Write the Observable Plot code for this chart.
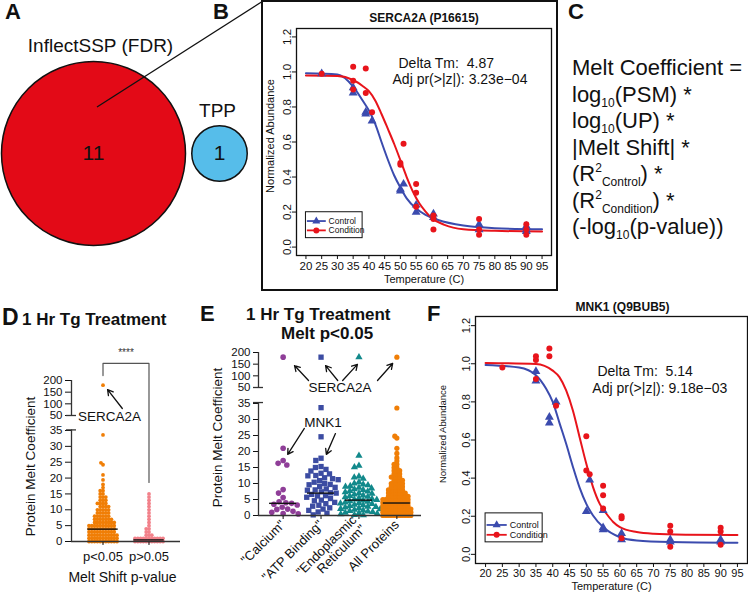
<!DOCTYPE html>
<html><head><meta charset="utf-8">
<script src="https://cdn.jsdelivr.net/npm/d3@7"></script>
<script src="https://cdn.jsdelivr.net/npm/@observablehq/plot@0.6"></script>
<style>
body{margin:0;background:#fff;}
#fig{position:relative;width:748px;height:594px;overflow:hidden;font-family:"Liberation Sans",Arial,Helvetica,sans-serif;color:#111;background:#fff;}
.lab{position:absolute;white-space:nowrap;line-height:1;}
#formula{position:absolute;left:572px;top:55px;font-size:22px;line-height:26.5px;white-space:nowrap;}
#formula sub,#formula sup{font-size:12px;line-height:0;position:relative;vertical-align:baseline;}
#formula sub{top:5px;}
#formula sup{top:-9px;}
#boxB{position:absolute;left:261px;top:0px;width:297px;height:291px;border:2px solid #111;box-sizing:border-box;}
</style></head><body><div id="fig"></div>
<script>
// ---------------- DATA ----------------
// Panel A (Venn counts)
const vennSets = ["InflectSSP (FDR)", "TPP"];
const vennCounts = [11, 1];
const vennColors = ["#E30A17", "#56BDEA"];

// Panels B & F shared
const tempTicks = [20,25,30,35,40,45,50,55,60,65,70,75,80,85,90,95];
const abundTicks = [0, 0.2, 0.4, 0.6, 0.8, 1.0, 1.2];
const legendNames = ["Control", "Condition"];
const curveColors = ["#3B4BAE", "#E8141B"];
const curveSymbols = ["triangle", "circle"];

// Panel B: SERCA2A (P16615)
const bCtrlTemp  = [25,35,35,39,39,41,50,50,51,55,55,60.5,60.5,75,75,90,90,90];
const bCtrlAbund = [0.99,0.88,0.91,0.77,0.76,0.72,0.33,0.32,0.36,0.20,0.24,0.19,0.17,0.13,0.10,0.12,0.10,0.09];
const bCondTemp  = [25,35,35,35,39,39,41,50,50,51,55,55,55,60.5,60.5,60.5,75,75,75,90,90,90];
const bCondAbund = [0.99,1.03,0.95,0.90,1.02,0.88,0.77,0.48,0.47,0.59,0.36,0.31,0.23,0.18,0.16,0.10,0.16,0.10,0.07,0.13,0.10,0.07];
const bCtrlFitTemp = [20,30,35,38,40,42,44,46,48,50,52,55,58,62,70,80,95];
const bCtrlFit     = [0.992,0.985,0.916,0.837,0.78,0.704,0.60,0.50,0.41,0.34,0.278,0.22,0.184,0.155,0.123,0.108,0.102];
const bCondFitTemp = [20,30,35,38,40,42,44,46,48,50,52,54,56,58,60,64,70,80,95];
const bCondFit     = [0.979,0.977,0.954,0.92,0.89,0.837,0.76,0.676,0.59,0.496,0.40,0.316,0.25,0.203,0.165,0.127,0.102,0.093,0.089];

// Panel F: MNK1 (Q9BUB5)
const fCtrlTemp  = [35,35,39,39,41,50,51,55,55,55,60.5,60.5,75,75,90,90];
const fCtrlAbund = [0.96,0.91,0.72,0.69,0.80,0.225,0.39,0.23,0.14,0.13,0.11,0.077,0.077,0.065,0.077,0.065];
const fCondTemp  = [25,35,35,35,39,39,41,50,50,51,55,55,55,60.5,60.5,60.5,75,75,75,90,90,90];
const fCondAbund = [0.98,1.04,1.02,0.92,1.08,1.04,0.78,0.62,0.44,0.42,0.36,0.31,0.24,0.20,0.19,0.085,0.15,0.12,0.04,0.14,0.12,0.05];
const fCtrlFitTemp = [20,30,35,38,40,42,44,46,48,50,52,55,60,65,75,95];
const fCtrlFit     = [0.994,0.98,0.94,0.87,0.80,0.69,0.58,0.46,0.35,0.265,0.204,0.143,0.09,0.073,0.065,0.061];
const fCondFitTemp = [20,35,40,42,44,46,48,50,52,54,56,58,60,65,70,80,95];
const fCondFit     = [1.004,0.999,0.964,0.93,0.86,0.755,0.615,0.475,0.353,0.265,0.213,0.17,0.143,0.117,0.108,0.103,0.101];

// Panel D: melt coefficient by melt-shift p-value (value levels + number of proteins read per level)
const dCats = ["p<0.05", "p>0.05"];
const dColors = ["#F07E06", "#F2818A"];
const sigLevels = [0,1,2,3,4,5,6,7,8,9,10,11,12,13,14,15,16,17,18];
const sigCounts = [11,11,11,10,10,10,8,7,6,5,5,4,4,3,3,2,2,1,1];
const sigOutliers = [19.4, 21.0, 24.2, 24.8, 33.6, 180];
const nsLevels = [0,1,2,3,4,5,6,7,8,9,10,11,12,13,14,15];
const nsCounts = [11,11,3,2,2,1,1,1,1,1,1,1,1,1,1,1];
const dMedians = [3.9, 0.5];
const yTicksLow = [0,5,10,15,20,25,30,35];
const yTicksHigh = [50,100,150,200];

// Panel E: GO-term subsets (melt p<0.05)
const eCats = ['"Calcium"', '"ATP Binding"', '"Endoplasmic\nReticulum"', 'All Proteins'];
const eColors = ["#8F3E98", "#3C4CA2", "#12898B", "#F07E06"];
const eSymbols = ["circle", "square", "triangle", "circle"];
const calciumVals = [180,21.0,17.2,16.3,15.8,8.1,7.0,5.6,4.3,4.0,3.8,3.5,3.3,2.6,2.0,1.9,1.3,1.0,0.6,0.5];
const atpVals = [180,33.7,24.6,17.9,17.2,15.3,15.0,14.4,13.9,13.2,13.0,12.5,12.4,11.8,11.5,11.2,10.9,10.4,10.0,9.7,9.6,9.1,8.8,8.3,8.0,7.9,7.4,7.1,7.0,6.6,6.2,6.1,5.7,5.3,4.8,4.6,4.1,3.7,3.2,2.9,2.4,2.0,1.6,1.1,0.7,0.2];
const erVals = [180,18.7,15.6,15.1,12.2,11.9,11.5,10.4,10.0,9.7,9.5,9.2,9.0,8.7,8.5,8.2,8.0,7.7,7.5,7.3,7.0,6.8,6.6,6.3,6.1,5.9,5.7,5.4,5.2,5.0,4.9,4.7,4.5,4.3,4.1,3.9,3.8,3.6,3.4,3.2,3.0,2.8,2.7,2.5,2.3,2.1,2.0,1.8,1.6,1.4,1.3,1.1,0.9,0.7,0.6,0.4,0.2,0.1];
const eMedians = [3.8, 7.0, 4.8, 3.9];
const brokenDomain = [0, 35, 50, 200];

// ---------------- HELPERS ----------------
const FONT = '"Liberation Sans", Arial, Helvetica, sans-serif';
const fig = document.getElementById("fig");
function put(node, left, top) {
  node.style.position = "absolute";
  node.style.left = left + "px";
  node.style.top = top + "px";
  fig.appendChild(node);
  return node;
}
function label(text, x, baseline, size, bold) {
  const d = document.createElement("div");
  d.className = "lab";
  d.textContent = text;
  d.style.fontSize = size + "px";
  if (bold) d.style.fontWeight = "bold";
  d.style.left = x + "px";
  d.style.top = (baseline - 0.8465 * size) + "px";
  fig.appendChild(d);
}
function expand(levels, counts) {
  const out = [];
  levels.forEach((v, i) => { for (let k = 0; k < counts[i]; k++) out.push(v); });
  return out;
}
const baseStyle = {fontFamily: FONT, background: "transparent", overflow: "visible", color: "#111"};

// ---------------- PANEL A ----------------
const venn = vennSets.map((set, i) => ({set, count: vennCounts[i]}));
const plotA = Plot.plot({
  width: 260, height: 260, marginTop: 46, marginBottom: 0, marginLeft: 0, marginRight: 0,
  x: {type: "point", domain: vennSets, range: [93, 219], padding: 0, axis: null},
  r: {type: "sqrt", domain: [0, 11], range: [0, 92]},
  color: {domain: vennSets, range: vennColors},
  style: baseStyle,
  marks: [
    Plot.dot(venn, {x: "set", r: "count", fill: "set", stroke: "#111", strokeWidth: 1.5}),
    Plot.text(venn, {x: "set", text: d => String(d.count), fontSize: 21, fill: "#111"}),
    Plot.text(venn.slice(0, 1), {x: "set", text: "set", dx: 7, dy: -108, fontSize: 19, fill: "#111"}),
    Plot.text(venn.slice(1), {x: "set", text: "set", dx: -2, dy: -43, fontSize: 19, fill: "#111"})
  ]
});
put(plotA, 0, 0);
{
  const ns = "http://www.w3.org/2000/svg";
  const s = document.createElementNS(ns, "svg");
  s.setAttribute("width", 270); s.setAttribute("height", 120);
  const l = document.createElementNS(ns, "line");
  l.setAttribute("x1", 97); l.setAttribute("y1", 107); l.setAttribute("x2", 263); l.setAttribute("y2", 1);
  l.setAttribute("stroke", "#111"); l.setAttribute("stroke-width", 1.3);
  s.appendChild(l);
  put(s, 0, 0);
}

// ---------------- PANELS B & F ----------------
function curveChart(o) {
  const pts = (T, V) => T.map((t, i) => ({t, v: V[i]}));
  const ctrl = pts(o.ctrlT, o.ctrlV), cond = pts(o.condT, o.condV);
  const ctrlFit = pts(o.ctrlFitT, o.ctrlFitV), condFit = pts(o.condFitT, o.condFitV);
  const [bx1, bx2, by1, by2] = o.legendBox;
  const rows = legendNames.map((name, i) => ({
    name, y: by1 + (by2 - by1) * o.legendRows[i], color: curveColors[i], symbol: curveSymbols[i]
  }));
  return Plot.plot({
    width: o.width, height: o.height,
    marginLeft: o.ml, marginRight: o.mr, marginTop: o.mt, marginBottom: o.mb,
    x: {domain: [17, 98]},
    y: {domain: [-0.048, 1.248]},
    style: {...baseStyle, fontSize: o.tickFont + "px"},
    marks: [
      Plot.frame({stroke: "#111", strokeWidth: 1.3}),
      Plot.axisX({ticks: tempTicks, tickSize: 4, tickPadding: 2, fontSize: o.tickFont, label: null}),
      Plot.axisY({ticks: abundTicks, tickSize: 4, tickPadding: 2, tickRotate: -90, tickFormat: d3.format(".1f"), fontSize: o.tickFont, label: null}),
      Plot.text(["Temperature (C)"], {text: d => d, frameAnchor: "bottom", textAnchor: "middle", lineAnchor: "middle", dy: o.xLabelDy, fontSize: 11}),
      Plot.text(["Normalized Abundance"], {text: d => d, frameAnchor: "left", textAnchor: "middle", lineAnchor: "middle", rotate: -90, dx: o.yLabelDx, dy: o.yLabelDy, fontSize: o.yLabelFont}),
      Plot.text([o.title], {text: d => d, frameAnchor: "top", textAnchor: "middle", lineAnchor: "middle", dy: o.titleDy, dx: o.titleDx, fontWeight: "bold", fontSize: 12}),
      Plot.line(ctrlFit, {x: "t", y: "v", stroke: curveColors[0], strokeWidth: 2, curve: "monotone-x"}),
      Plot.line(condFit, {x: "t", y: "v", stroke: curveColors[1], strokeWidth: 2, curve: "monotone-x"}),
      Plot.dot(ctrl, {x: "t", y: "v", symbol: "triangle", fill: curveColors[0], r: 3.3}),
      Plot.dot(cond, {x: "t", y: "v", symbol: "circle", fill: curveColors[1], r: 3}),
      Plot.text([o.delta], {text: d => d, x: o.deltaPos[0], y: o.deltaPos[1], textAnchor: "start", fontSize: o.annFont}),
      Plot.text([o.adj], {text: d => d, x: o.adjPos[0], y: o.adjPos[1], textAnchor: "start", fontSize: o.annFont}),
      Plot.rect([0], {x1: bx1, x2: bx2, y1: by1, y2: by2, fill: "white", stroke: "#111", strokeWidth: 1}),
      Plot.link(rows, {x1: bx1 + 0.3, x2: bx1 + 6.3, y1: "y", y2: "y", stroke: "color", strokeWidth: 1.8}),
      Plot.dot(rows, {x: bx1 + 3.3, y: "y", symbol: "symbol", fill: "color", r: 3}),
      Plot.text(rows, {x: bx1 + 7.2, y: "y", text: "name", textAnchor: "start", fontSize: o.legendFont})
    ]
  });
}

const plotB = curveChart({
  width: 295, height: 290, ml: 34, mr: 6, mt: 28, mb: 35, tickFont: 11.5,
  ctrlT: bCtrlTemp, ctrlV: bCtrlAbund, condT: bCondTemp, condV: bCondAbund,
  ctrlFitT: bCtrlFitTemp, ctrlFitV: bCtrlFit, condFitT: bCondFitTemp, condFitV: bCondFit,
  title: "SERCA2A (P16615)", titleDy: -10, titleDx: 0,
  xLabelDy: 24, yLabelDx: -26, yLabelDy: -6, yLabelFont: 11,
  delta: "Delta Tm:\u00a0 4.87", deltaPos: [49.4, 1.048],
  adj: "Adj pr(>|z|): 3.23e\u221204", adjPos: [47.5, 0.959], annFont: 14,
  legendBox: [20, 38, 0.051, 0.199], legendRows: [0.66, 0.3], legendFont: 8.5
});
put(plotB, 262, 0);
const boxB = document.createElement("div"); boxB.id = "boxB"; fig.appendChild(boxB);

const plotF = curveChart({
  width: 308, height: 294, ml: 35, mr: 1, mt: 16, mb: 31, tickFont: 11,
  ctrlT: fCtrlTemp, ctrlV: fCtrlAbund, condT: fCondTemp, condV: fCondAbund,
  ctrlFitT: fCtrlFitTemp, ctrlFitV: fCtrlFit, condFitT: fCondFitTemp, condFitV: fCondFit,
  title: "MNK1 (Q9BUB5)", titleDy: -9, titleDx: 11,
  xLabelDy: 23, yLabelDx: -33, yLabelDy: -6, yLabelFont: 9.5,
  delta: "Delta Tm:\u00a0 5.14", deltaPos: [53.3, 0.958],
  adj: "Adj pr(>|z|): 9.18e\u221203", adjPos: [51.8, 0.872], annFont: 14,
  legendBox: [20, 37, 0.063, 0.215], legendRows: [0.6, 0.26], legendFont: 9
});
put(plotF, 440, 300);

// ---------------- PANEL C ----------------
{
  const f = document.createElement("div");
  f.id = "formula";
  f.innerHTML = "Melt Coefficient =<br>log<sub>10</sub>(PSM) *<br>log<sub>10</sub>(UP) *<br>|Melt Shift| *<br>" +
    "(R<sup>2</sup><sub>Control</sub>) *<br>(R<sup>2</sup><sub>Condition</sub>) *<br>(-log<sub>10</sub>(p-value))";
  fig.appendChild(f);
}

// ---------------- SWARM PANELS (D, E) with broken y axis ----------------
function swarmPair(o) {
  const n = o.cats.length;
  const e = o.padOuter + (1 - o.padInner) / 2;
  // piecewise mapping of the broken axis onto a linear display scale (pixels above the baseline)
  const brk = d3.scaleLinear().domain(brokenDomain).range(o.brkRange);
  const top = o.brkRange[o.brkRange.length - 1];
  const common = {
    width: o.width, height: o.height, marginLeft: o.ml, marginRight: o.mr, marginTop: o.mt, marginBottom: o.mb,
    style: {...baseStyle, fontSize: "11.5px"}
  };
  const yScale = {domain: [0, top], axis: null};
  const main = Plot.plot({
    ...common,
    fx: {domain: o.cats, paddingInner: o.padInner, paddingOuter: o.padOuter, round: false, label: null},
    y: yScale,
    marks: [
      ...o.groups.map(g => Plot.dot(g.values.map(v => ({cat: g.cat, v})),
        Plot.dodgeX({anchor: "middle", padding: g.padding}, {fx: "cat", y: d => brk(d.v), r: g.r, fill: g.color, symbol: g.symbol}))),
      Plot.tickY(o.cats.map((c, i) => ({cat: c, m: o.medians[i]})), {fx: "cat", y: d => brk(d.m), stroke: "#111", strokeWidth: 1.4, insetLeft: o.medInset, insetRight: o.medInset}),
      Plot.axisFx({anchor: "bottom", tickSize: 4, tickPadding: o.fxPadding, tickRotate: o.fxRotate, fontSize: 13, label: null})
    ]
  });
  const over = Plot.plot({
    ...common,
    x: {domain: [-e, n - 1 + e], axis: null},
    y: yScale,
    marks: [
      Plot.axisY({ticks: o.ticks.map(brk), tickFormat: t => String(Math.round(brk.invert(t))), tickSize: o.tickSize, tickPadding: 3, fontSize: 11.5, label: null}),
      Plot.ruleX([-e], {y1: brk(0), y2: brk(o.lowTop), stroke: "#333", strokeWidth: 1.3}),
      Plot.ruleX([-e], {y1: brk(50), y2: brk(200), stroke: "#333", strokeWidth: 1.3}),
      Plot.ruleY([brk(50), brk(o.lowTop)], {x1: -e, x2: -e, insetLeft: -5, insetRight: -5, stroke: "#333", strokeWidth: 1.3}),
      Plot.ruleY([brk(0)], {stroke: "#333", strokeWidth: 1.3}),
      Plot.text(["Protein Melt Coefficient"], {text: d => d, frameAnchor: "left", textAnchor: "middle", lineAnchor: "middle", rotate: -90, dx: o.yLabelDx, dy: o.yLabelDy, fontSize: 13.5}),
      ...o.extra(brk)
    ]
  });
  const wrap = document.createElement("div");
  wrap.style.width = o.width + "px"; wrap.style.height = o.height + "px";
  main.style.position = "absolute"; main.style.left = "0px"; main.style.top = "0px";
  over.style.position = "absolute"; over.style.left = "0px"; over.style.top = "0px";
  wrap.appendChild(main); wrap.appendChild(over);
  return wrap;
}

// Panel D
const dAnnot = {
  bracket: [{x: 0, y: 221}, {x: 0, y: 273}, {x: 1, y: 273}, {x: 1, y: 18.6}],
  stars: {x: 0.5, y: 320, text: "****"},
  label: {x: 0.14, y: 49, text: "SERCA2A"},
  arrows: [{x1: 0.42, y1: 80, x2: 0.10, y2: 161}]
};
const plotD = swarmPair({
  width: 186, height: 254, ml: 71, mr: 6, mt: 40, mb: 53, brkRange: [0, 111, 126, 161],
  cats: dCats, padInner: 0.1, padOuter: 0.235,
  groups: [
    {cat: dCats[0], values: expand(sigLevels, sigCounts).concat(sigOutliers), color: dColors[0], symbol: "circle", r: 1.9, padding: -1.0},
    {cat: dCats[1], values: expand(nsLevels, nsCounts), color: dColors[1], symbol: "circle", r: 1.9, padding: -1.0}
  ],
  medians: dMedians, medInset: 5.5, fxPadding: 6, fxRotate: 0,
  ticks: yTicksLow.concat(yTicksHigh), tickSize: 6, lowTop: 35.6, yLabelDx: -41, yLabelDy: 5.5,
  extra: brk => [
    Plot.line(dAnnot.bracket, {x: "x", y: d => brk(d.y), stroke: "#555", strokeWidth: 1.2}),
    Plot.text([dAnnot.stars], {x: "x", y: d => brk(d.y), text: "text", fontSize: 10, fill: "#333"}),
    Plot.text([dAnnot.label], {x: "x", y: d => brk(d.y), text: "text", fontSize: 13.5}),
    Plot.arrow(dAnnot.arrows, {x1: "x1", y1: d => brk(d.y1), x2: "x2", y2: d => brk(d.y2), stroke: "#111", strokeWidth: 1.3, headLength: 7}),
    Plot.text(["Melt Shift p-value"], {text: d => d, frameAnchor: "bottom", textAnchor: "middle", lineAnchor: "middle", dy: 36, dx: -3.5, fontSize: 14})
  ]
});
put(plotD, 0, 340);

// Panel E
const eAnnot = {
  serca: {x: 1.50, y: 49.5, text: "SERCA2A"},
  sercaArrows: [
    {x1: 0.67, y1: 80, x2: 0.30, y2: 144},
    {x1: 1.44, y1: 80, x2: 1.12, y2: 144},
    {x1: 1.57, y1: 80, x2: 1.96, y2: 149},
    {x1: 2.49, y1: 80, x2: 2.89, y2: 153}
  ],
  mnk: {x: 1.05, y: 28.9, text: "MNK1"},
  mnkArrows: [
    {x1: 0.56, y1: 27.2, x2: 0.12, y2: 19.1},
    {x1: 1.38, y1: 25.6, x2: 1.14, y2: 19.1}
  ]
};
const plotE = swarmPair({
  width: 240, height: 254, ml: 68, mr: 9, mt: 12, mb: 79, brkRange: [0, 112, 128, 163],
  cats: eCats, padInner: 0.1, padOuter: 0.2,
  groups: [
    {cat: eCats[0], values: calciumVals, color: eColors[0], symbol: eSymbols[0], r: 2.8, padding: 0.2},
    {cat: eCats[1], values: atpVals, color: eColors[1], symbol: eSymbols[1], r: 3, padding: -0.3},
    {cat: eCats[2], values: erVals, color: eColors[2], symbol: eSymbols[2], r: 2.7, padding: -0.6},
    {cat: eCats[3], values: expand(sigLevels, sigCounts).concat(sigOutliers), color: eColors[3], symbol: eSymbols[3], r: 2.6, padding: -2.4}
  ],
  medians: eMedians, medInset: 3.5, fxPadding: 3, fxRotate: -45,
  ticks: yTicksLow.concat(yTicksHigh), tickSize: 5, lowTop: 35.9, yLabelDx: -41, yLabelDy: 3.5,
  extra: brk => [
    Plot.text([eAnnot.serca], {x: "x", y: d => brk(d.y), text: "text", fontSize: 13.5}),
    Plot.arrow(eAnnot.sercaArrows, {x1: "x1", y1: d => brk(d.y1), x2: "x2", y2: d => brk(d.y2), stroke: "#111", strokeWidth: 1.3, headLength: 7}),
    Plot.text([eAnnot.mnk], {x: "x", y: d => brk(d.y), text: "text", fontSize: 13.5}),
    Plot.arrow(eAnnot.mnkArrows, {x1: "x1", y1: d => brk(d.y1), x2: "x2", y2: d => brk(d.y2), stroke: "#111", strokeWidth: 1.3, headLength: 7})
  ]
});
put(plotE, 190, 340);

// ---------------- LETTERS & TITLES ----------------
label("A", 5, 20, 22, true);
label("B", 213, 20, 22, true);
label("C", 568, 20, 22, true);
label("D", 2, 325, 23, true);
label("1 Hr Tg Treatment", 22, 325, 17, true);
label("E", 200, 322, 22, true);
label("1 Hr Tg Treatment", 246, 320, 17, true);
label("Melt p<0.05", 281, 339.5, 17, true);
label("F", 427, 322, 22, true);
</script></body></html>
